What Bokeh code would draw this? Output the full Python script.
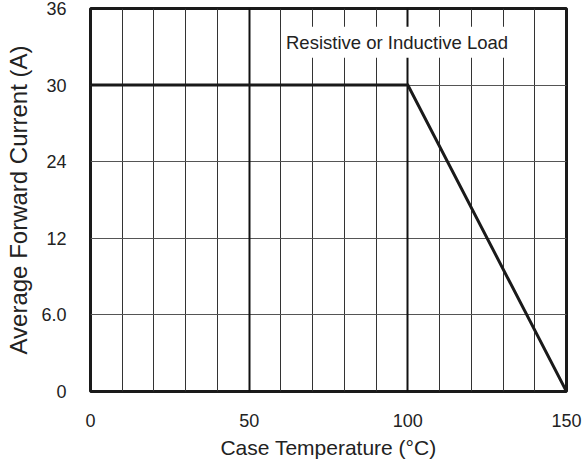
from bokeh.plotting import figure
from bokeh.models import Range1d, FixedTicker, Grid, Label
from bokeh.embed import file_html
from bokeh.resources import INLINE

# ---- data ----
temp_c = [0, 100, 150]          # case temperature (°C)
current_a = [30, 30, 0]         # average forward current (A)

x_ticks = [0, 50, 100, 150]
x_minor_grid = [10, 20, 30, 40, 60, 70, 80, 90, 110, 120, 130, 140]
x_major_grid = [50, 100]
y_ticks = [0, 7.5, 15, 22.5, 30, 37.5]
y_tick_labels = ["0", "6.0", "12", "24", "30", "36"]

FONT = "Liberation Sans"
TXT = "#222222"

p = figure(width=582, height=461,
           x_range=Range1d(0, 150), y_range=Range1d(0, 37.5),
           output_backend="svg", toolbar_location=None,
           min_border_left=90, min_border_right=16,
           min_border_top=8, min_border_bottom=69)

p.background_fill_color = "white"
p.border_fill_color = "white"
p.outline_line_color = "#1a1a1a"
p.outline_line_width = 3

# axes
p.xaxis.ticker = FixedTicker(ticks=x_ticks)
p.yaxis.ticker = FixedTicker(ticks=y_ticks)
p.yaxis.major_label_overrides = {t: l for t, l in zip(y_ticks, y_tick_labels)}

for ax in (p.xaxis, p.yaxis):
    ax.axis_line_color = None
    ax.major_tick_line_color = None
    ax.minor_tick_line_color = None
    ax.major_label_text_font = FONT
    ax.major_label_text_font_size = "18px"
    ax.major_label_text_color = TXT
    ax.axis_label_text_font = FONT
    ax.axis_label_text_font_style = "normal"
    ax.axis_label_text_color = TXT

p.xaxis.axis_label = "Case Temperature (°C)"
p.yaxis.axis_label = "Average Forward Current (A)"
p.xaxis.axis_label_text_font_size = "21px"
p.yaxis.axis_label_text_font_size = "24px"
p.xaxis.major_label_standoff = 16
p.yaxis.major_label_standoff = 18
p.xaxis.axis_label_standoff = 6
p.yaxis.axis_label_standoff = 6

# grids
p.xgrid.ticker = FixedTicker(ticks=x_minor_grid)
p.xgrid.grid_line_color = "#333333"
p.xgrid.grid_line_width = 1
p.ygrid.ticker = FixedTicker(ticks=y_ticks)
p.ygrid.grid_line_color = "#555555"
p.ygrid.grid_line_width = 1
p.add_layout(Grid(dimension=0, ticker=FixedTicker(ticks=x_major_grid),
                  grid_line_color="#111111", grid_line_width=2))

# derating curve
p.line(temp_c, current_a, line_color="#1a1a1a", line_width=3, line_join="miter")

# annotation
p.add_layout(Label(x=96.6, y=34.2, text="Resistive or Inductive Load",
                   text_align="center", text_baseline="middle",
                   text_font=FONT, text_font_size="18.5px", text_color=TXT,
                   background_fill_color="white", padding=5))

open("out.html", "w").write(file_html(p, INLINE))
